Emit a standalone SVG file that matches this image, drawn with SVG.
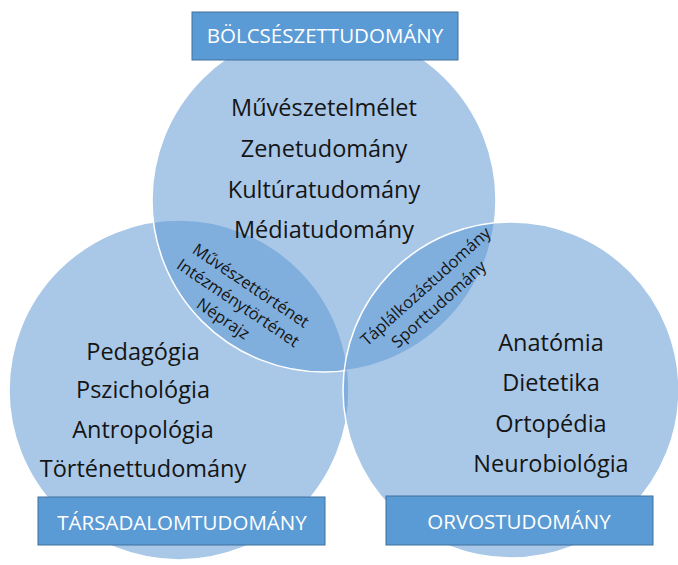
<svg xmlns="http://www.w3.org/2000/svg" width="678" height="565" viewBox="0 0 678 565">
<style>
.c{fill:#5b95d2;fill-opacity:0.52;stroke:#ffffff;stroke-width:1.5}
.t{font-family:"Open Sans","Liberation Sans",sans-serif;font-size:23.5px;fill:#151515;text-anchor:middle}
.s{font-family:"Open Sans","Liberation Sans",sans-serif;font-size:16.5px;fill:#151515;text-anchor:middle}
.b{fill:#5b9bd5;stroke:#41719c;stroke-width:1}
.l{font-family:"Open Sans","Liberation Sans",sans-serif;font-size:20.5px;fill:#ffffff;text-anchor:middle}
</style>
<rect width="678" height="565" fill="#ffffff"/>
<g id="circles">
<circle id="c-tars" class="c" cx="179" cy="390" r="170"/>
<circle id="c-bolcs" class="c" cx="324" cy="200" r="172"/>
<circle id="c-orvos" class="c" cx="511" cy="390" r="168"/>
</g>
<g id="bolcs-items">
<text class="t" x="324" y="116">Művészetelmélet</text>
<text class="t" x="324" y="157">Zenetudomány</text>
<text class="t" x="324" y="198">Kultúratudomány</text>
<text class="t" x="324" y="238">Médiatudomány</text>
</g>
<g id="tars-items">
<text class="t" x="143" y="360">Pedagógia</text>
<text class="t" x="143" y="398">Pszichológia</text>
<text class="t" x="143" y="438">Antropológia</text>
<text class="t" x="143" y="477">Történettudomány</text>
</g>
<g id="orvos-items">
<text class="t" x="551" y="351">Anatómia</text>
<text class="t" x="551" y="391">Dietetika</text>
<text class="t" x="551" y="432">Ortopédia</text>
<text class="t" x="551" y="472">Neurobiológia</text>
</g>
<g id="overlap-left" transform="translate(238,303) rotate(34)">
<text class="s" x="1" y="-16">Művészettörténet</text>
<text class="s" x="0" y="5.5">Intézménytörténet</text>
<text class="s" x="-3.5" y="27">Néprajz</text>
</g>
<g id="overlap-right" transform="translate(432,295) rotate(-42)">
<text class="s" x="1" y="-5">Táplálkozástudomány</text>
<text class="s" x="-1" y="17">Sporttudomány</text>
</g>
<g id="label-bolcs">
<rect class="b" x="192" y="12" width="266" height="48"/>
<text class="l" x="325" y="43">BÖLCSÉSZETTUDOMÁNY</text>
</g>
<g id="label-tars">
<rect class="b" x="38" y="497" width="287" height="48"/>
<text class="l" x="182" y="530">TÁRSADALOMTUDOMÁNY</text>
</g>
<g id="label-orvos">
<rect class="b" x="386" y="496" width="267" height="49"/>
<text class="l" x="519" y="529">ORVOSTUDOMÁNY</text>
</g>
</svg>
